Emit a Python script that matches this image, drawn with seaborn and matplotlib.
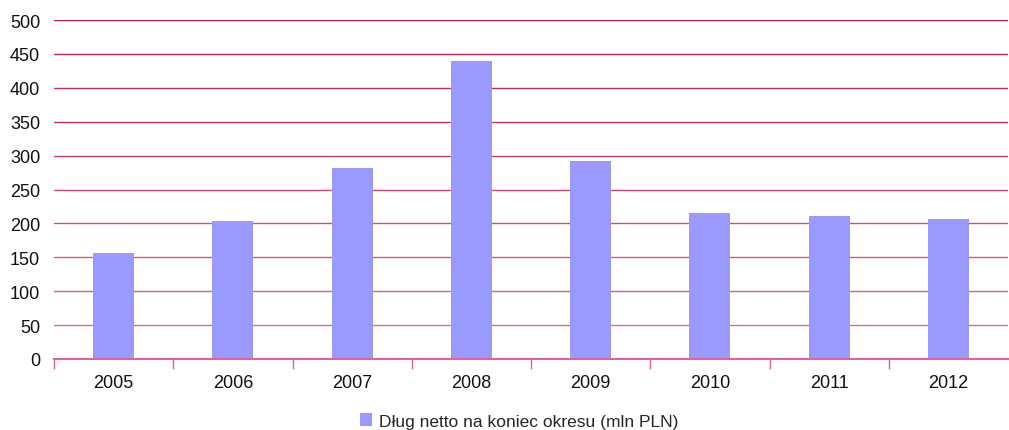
import matplotlib
matplotlib.use("Agg")
import matplotlib.pyplot as plt
import seaborn as sns
import pandas as pd
import numpy as np
from matplotlib.patches import Patch

years = ["2005", "2006", "2007", "2008", "2009", "2010", "2011", "2012"]
values = [157, 203, 281, 440, 292, 215, 211, 207]
series_label = "Dług netto na koniec okresu (mln PLN)"
yticks = [0, 50, 100, 150, 200, 250, 300, 350, 400, 450, 500]

sns.set_theme(style="white")
plt.rcParams["font.family"] = ["Liberation Sans", "DejaVu Sans"]

df = pd.DataFrame({"year": years, "value": values})

fig = plt.figure(figsize=(10.09, 4.31), dpi=100)
ax = fig.add_axes([54/1009, 1-360/431, (1008-54)/1009, 339/431])

sns.barplot(data=df, x="year", y="value", color="#9999FF", width=0.345,
            saturation=1, linewidth=0, edgecolor="none", ax=ax, zorder=3)

ax.set_ylim(0, 500)
ax.set_xlim(-0.5, len(years) - 0.5)
ax.set_yticks(yticks)
ax.set_yticklabels([str(t) for t in yticks], fontsize=13, color="#111111")
ax.set_xlabel("")
ax.set_ylabel("")
ax.tick_params(axis="x", which="major", labelsize=13, colors="#111111", length=0, pad=11)
ax.tick_params(axis="y", length=0, pad=10)

ax.set_xticks(np.arange(-0.5, len(years) - 1, 1.0), minor=True)
ax.tick_params(axis="x", which="minor", bottom=True, length=7, width=1,
               color="#E060A0", direction="out")

ax.yaxis.grid(True, zorder=0)
ax.set_axisbelow(True)
grid_colors = ["#E070A8", "#DC68A0", "#D85F98", "#D45690", "#D04D88", "#CC4480",
               "#C83B78", "#C43270", "#C02868", "#BC2060", "#B81858"]
for gl, c in zip(ax.yaxis.get_gridlines(), grid_colors):
    gl.set_color(c)
    gl.set_linewidth(1.0)

for s in ["left", "right", "top"]:
    ax.spines[s].set_visible(False)
ax.spines["bottom"].set_color("#E060A0")
ax.spines["bottom"].set_linewidth(1.5)
ax.spines["bottom"].set_zorder(4)

handle = Patch(facecolor="#9999FF", edgecolor="none")
fig.legend([handle], [series_label], loc="center", bbox_to_anchor=(519/1009, 1 - 422/431),
           frameon=False, fontsize=12.5, handlelength=0.7, handleheight=0.7,
           handletextpad=0.4)

fig.savefig("out.png", dpi=100)
